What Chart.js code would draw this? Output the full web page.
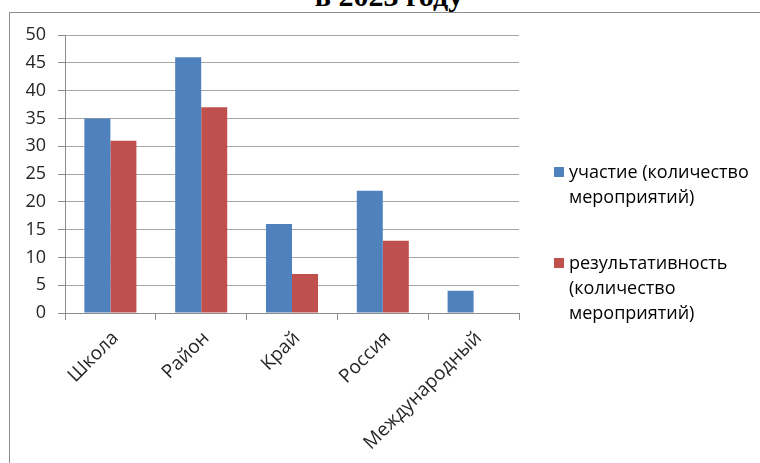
<!DOCTYPE html>
<html>
<head>
<meta charset="utf-8">
<script src="https://cdn.jsdelivr.net/npm/chart.js@4/dist/chart.umd.min.js"></script>
<style>
    html, body { margin: 0; padding: 0; background: #fff; }
    body { width: 760px; height: 463px; position: relative; overflow: hidden; }
    #frame {
        position: absolute; left: 9px; top: 12px; width: 800px; height: 500px;
        border: 1px solid #8c8c8c; box-sizing: border-box;
    }
    #title {
        position: absolute; left: 0; width: 778px; top: -19px; text-align: center;
        font: bold 30px/30px "Liberation Serif", "Times New Roman", serif; color: #000;
    }
    #wrap { position: absolute; left: 0; top: 0; width: 760px; height: 463px; }
    #legend {
        position: absolute; left: 554px; top: 159px; width: 206px;
        font: 18px/25px "Open Sans", sans-serif; color: #000;
    }
    .item { display: flex; align-items: flex-start; margin-bottom: 41px; }
    .box { width: 10px; height: 10px; flex: none; margin: 8px 5px 0 0; }
</style>
</head>
<body>
<div id="frame"></div>
<div id="title">в 2023 году</div>
<div id="wrap"><canvas id="chart" width="760" height="463"></canvas></div>
<div id="legend"></div>
<script>
// values
var categories = ['Школа', 'Район', 'Край', 'Россия', 'Международный'];
var participation = [35, 46, 16, 22, 4];
var results = [31, 37, 7, 13, 0];
var seriesLabels = ['участие (количество мероприятий)', 'результативность (количество мероприятий)'];
var yMin = 0, yMax = 50, yStep = 5;

var C = { blue: '#4f81bd', red: '#c0504d', grid: '#a6a6a6', axis: '#8c8c8c', ink: '#262626' };

var chart = new Chart(document.getElementById('chart'), {
    type: 'bar',
    data: {
        labels: categories,
        datasets: [
            { label: seriesLabels[0], data: participation, backgroundColor: C.blue,
              categoryPercentage: 0.573, barPercentage: 1.0 },
            { label: seriesLabels[1], data: results, backgroundColor: C.red,
              categoryPercentage: 0.573, barPercentage: 1.0 }
        ]
    },
    options: {
        responsive: false,
        animation: false,
        layout: { padding: { top: 35, right: 241, left: 0, bottom: 0 } },
        plugins: { legend: { display: false }, tooltip: { enabled: false } },
        scales: {
            x: {
                afterFit: function (s) { s.height = 150; },
                grid: { offset: true, drawOnChartArea: false, drawTicks: true, tickLength: 7, color: C.axis },
                border: { color: C.axis },
                ticks: {
                    color: C.ink, font: { family: '"Open Sans", sans-serif', size: 19 },
                    minRotation: 45, maxRotation: 45, padding: 7, labelOffset: 5
                }
            },
            y: {
                min: yMin, max: yMax,
                afterFit: function (s) { s.width = 65; },
                grid: { color: C.grid, tickLength: 7, tickColor: C.axis },
                border: { color: C.axis },
                ticks: {
                    stepSize: yStep, color: C.ink, font: { family: '"Open Sans", sans-serif', size: 18 },
                    padding: 12
                }
            }
        }
    }
});

// legend in the page so its labels wrap like the original
var legend = document.getElementById('legend');
chart.data.datasets.forEach(function (ds) {
    var item = document.createElement('div');
    item.className = 'item';
    var box = document.createElement('span');
    box.className = 'box';
    box.style.background = ds.backgroundColor;
    var txt = document.createElement('span');
    txt.textContent = ds.label;
    item.appendChild(box);
    item.appendChild(txt);
    legend.appendChild(item);
});
</script>
</body>
</html>
